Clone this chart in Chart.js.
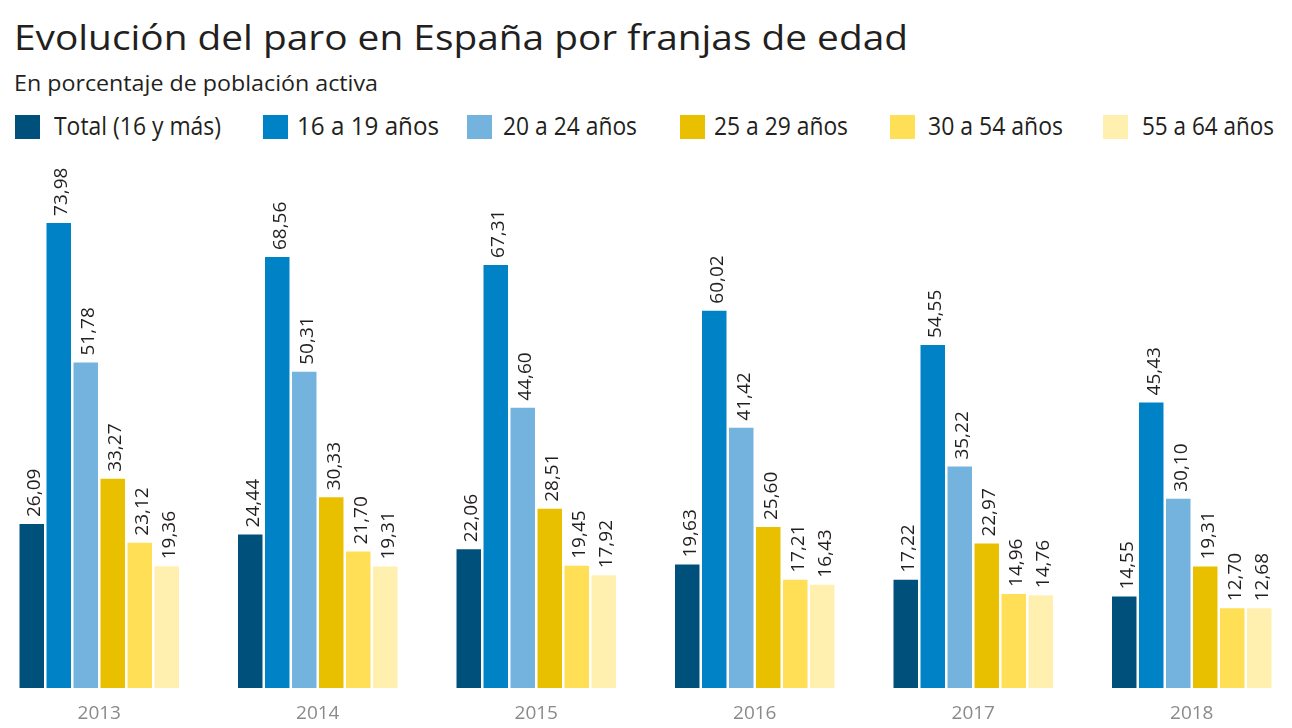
<!DOCTYPE html>
<html>
<head>
<meta charset="utf-8">
<script src="https://cdn.jsdelivr.net/npm/chart.js@4.4.1/dist/chart.umd.min.js"></script>
<style>
  html, body { margin: 0; padding: 0; background: #fff; overflow: hidden; width: 1292px; height: 728px; }
  .txt { position: absolute; white-space: nowrap; font-family: 'Open Sans', sans-serif; color: #231f20; line-height: 1; transform-origin: 0 0; }
  #title { left: 14px; top: 19px; font-size: 35px; }
  #subtitle { left: 14px; top: 73px; font-size: 21px; }
  .sw { position: absolute; top: 115px; width: 25px; height: 24px; }
  .lt { top: 113px; font-size: 25px; }
  #wrap { position: absolute; left: -10px; top: 150px; width: 1311px; height: 578px; }
</style>
</head>
<body>
<div id="title" class="txt">Evolución del paro en España por franjas de edad</div>
<div id="subtitle" class="txt">En porcentaje de población activa</div>
<div id="legend"></div>
<div id="wrap"><canvas id="c" width="1311" height="578"></canvas></div>
<script>
const years = ['2013', '2014', '2015', '2016', '2017', '2018'];
const seriesNames = ['Total (16 y más)', '16 a 19 años', '20 a 24 años', '25 a 29 años', '30 a 54 años', '55 a 64 años'];
const total   = [26.09, 24.44, 22.06, 19.63, 17.22, 14.55];
const age1619 = [73.98, 68.56, 67.31, 60.02, 54.55, 45.43];
const age2024 = [51.78, 50.31, 44.60, 41.42, 35.22, 30.10];
const age2529 = [33.27, 30.33, 28.51, 25.60, 22.97, 19.31];
const age3054 = [23.12, 21.70, 19.45, 17.21, 14.96, 12.70];
const age5564 = [19.36, 19.31, 17.92, 16.43, 14.76, 12.68];
const colors = ['#00507c', '#0083c6', '#75b3df', '#e9c000', '#fedf55', '#fff0af'];

const seriesValues = [total, age1619, age2024, age2529, age3054, age5564];

// Legend (HTML) layout
const legendSwatchLeft = [15, 263, 467, 680, 890, 1103];
const legendTextLeft = [54, 297, 503, 714, 928, 1142];
const legendTextWidth = [167, 142, 134, 134, 135, 132];
const legend = document.getElementById('legend');
const legendTexts = [];
seriesNames.forEach((name, i) => {
  const sw = document.createElement('div');
  sw.className = 'sw';
  sw.style.left = legendSwatchLeft[i] + 'px';
  sw.style.background = colors[i];
  legend.appendChild(sw);
  const t = document.createElement('div');
  t.className = 'txt lt';
  t.style.left = legendTextLeft[i] + 'px';
  t.textContent = name;
  legend.appendChild(t);
  legendTexts.push(t);
});

function fit(el, w) {
  el.style.transform = 'none';
  const nat = el.getBoundingClientRect().width;
  el.style.transform = 'scaleX(' + (w / nat) + ')';
}
function layoutText() {
  fit(document.getElementById('title'), 894);
  fit(document.getElementById('subtitle'), 364);
  legendTexts.forEach((t, i) => fit(t, legendTextWidth[i]));
}
layoutText();
if (document.fonts && document.fonts.ready) document.fonts.ready.then(layoutText);

const labelPlugin = {
  id: 'vlabels',
  afterDatasetsDraw(chart) {
    const ctx = chart.ctx;
    ctx.save();
    ctx.font = '19px "Open Sans", sans-serif';
    ctx.fillStyle = '#231f20';
    ctx.textAlign = 'left';
    ctx.textBaseline = 'alphabetic';
    chart.data.datasets.forEach((ds, di) => {
      const meta = chart.getDatasetMeta(di);
      meta.data.forEach((bar, j) => {
        const txt = ds.data[j].toFixed(2).replace('.', ',');
        ctx.save();
        ctx.translate(bar.x, bar.y - 7);
        ctx.rotate(-Math.PI / 2);
        ctx.fillText(txt, 0, 8.5);
        ctx.restore();
      });
    });
    ctx.restore();
  }
};

new Chart(document.getElementById('c'), {
  type: 'bar',
  data: {
    labels: years,
    datasets: seriesNames.map((n, i) => ({
      label: n,
      data: seriesValues[i],
      backgroundColor: colors[i],
      borderWidth: 0,
      categoryPercentage: 0.7414,
      barPercentage: 0.907
    }))
  },
  options: {
    responsive: false,
    animation: false,
    layout: { padding: 0 },
    plugins: { legend: { display: false }, title: { display: false }, tooltip: { enabled: false } },
    scales: {
      x: {
        grid: { display: false },
        border: { display: false },
        ticks: { color: '#8a8a8a', font: { family: 'Open Sans', size: 19 }, padding: 6 },
        afterFit(scale) { scale.height = 40; }
      },
      y: {
        display: false,
        min: 0,
        max: 85.59
      }
    }
  },
  plugins: [labelPlugin]
});
</script>
</body>
</html>
